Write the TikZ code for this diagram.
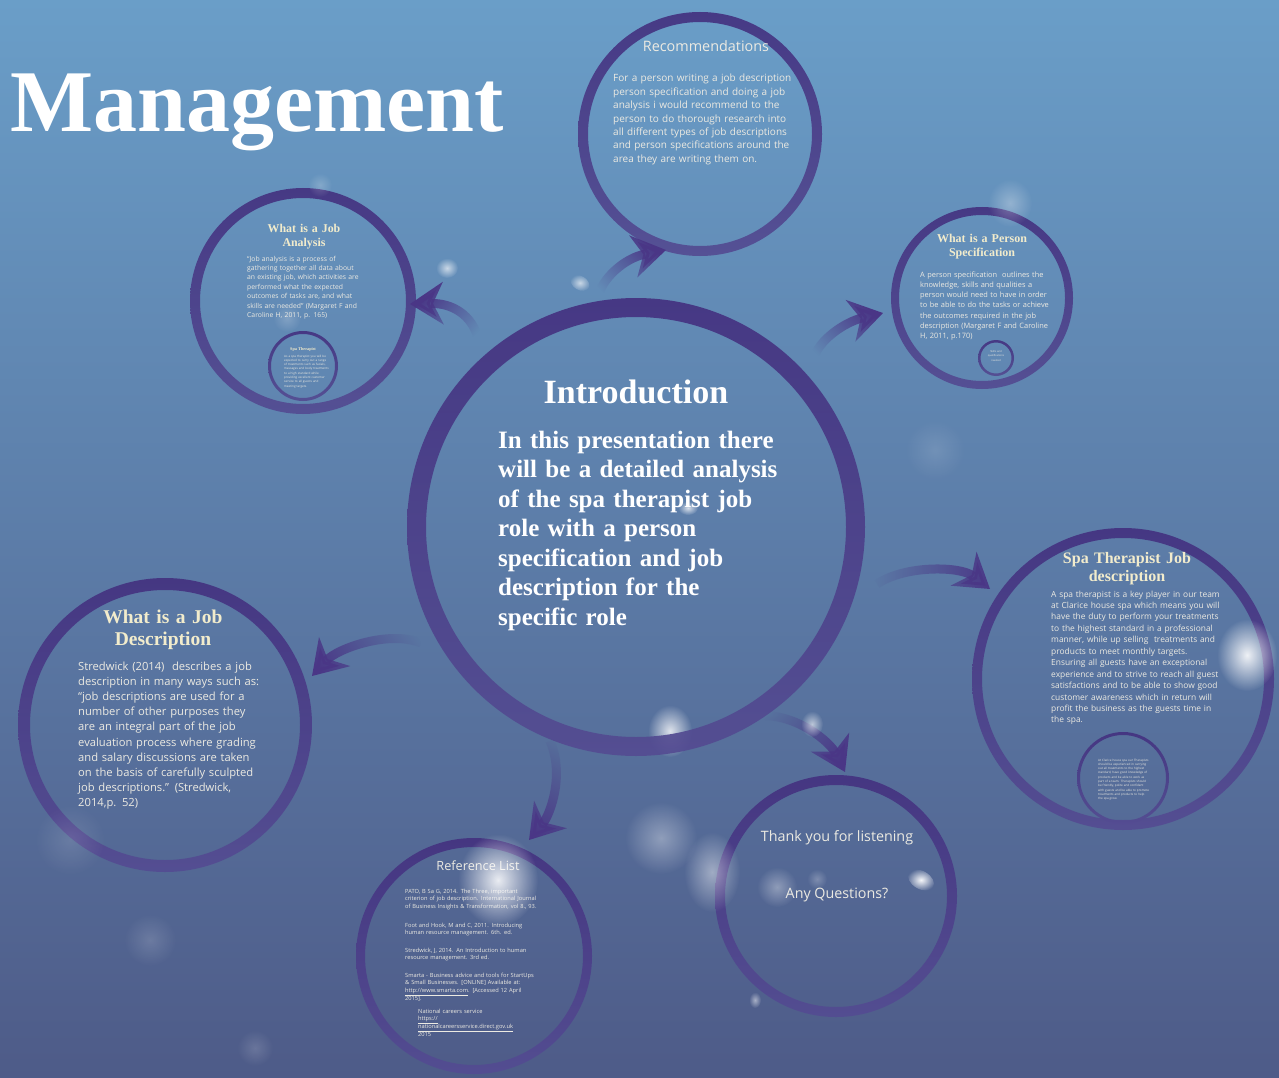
\documentclass[tikz,border=0pt]{standalone}
\usepackage{fontspec}
\setmainfont{Liberation Serif}
\newfontfamily\osans{Open Sans}
\usetikzlibrary{arrows.meta,fadings}
\definecolor{bgtop}{RGB}{106,158,200}
\definecolor{bgmid}{RGB}{88,123,166}
\definecolor{bgbot}{RGB}{78,91,136}
\definecolor{ringtop}{RGB}{68,50,128}
\definecolor{ringbot}{RGB}{84,76,146}
\definecolor{arrowc}{RGB}{74,54,134}
\definecolor{cream}{RGB}{242,236,204}
\definecolor{bodytxt}{RGB}{236,234,226}
\tikzfading[name=fuzzy, inner color=transparent!0, outer color=transparent!100]
\tikzfading[name=tailfade, left color=transparent!100, right color=transparent!0]
\newcommand\ringat[3]{\shade[top color=ringtop, bottom color=ringbot, even odd rule, opacity=0.92]
  (#1) circle[radius=#2pt] (#1) circle[radius=#2pt-#3pt];}
\newcommand\spot[5]{\fill[white, path fading=fuzzy, fill opacity=#5] (#1,#2) ellipse[x radius=#3pt, y radius=#4pt];}
\tikzset{
  hub/.style={circle, inner sep=0pt, draw=none, minimum size=#1},
  heading/.style={anchor=base, inner sep=0pt, text=cream, align=center, text width=#1},
  bodytext/.style={anchor=base west, inner sep=0pt, text=bodytxt, align=left, text width=#1},
  plain/.style={anchor=base, inner sep=0pt, text=bodytxt},
  arr/.style={draw=arrowc, line width=9pt, -{Stealth[length=33pt,width=42pt,inset=10pt]},
    path fading=tailfade, fading angle=#1},
}
\begin{document}
\begin{tikzpicture}[x=1pt,y=-1pt]
\useasboundingbox (0,0) rectangle (1279,1078);
\shade[top color=bgtop, middle color=bgmid, bottom color=bgbot] (0,0) rectangle (1279,1078);

% spots lying behind the rings
\spot{670}{731}{22}{26}{0.8}

% hubs
\node[hub=458pt] (intro) at (636,527) {};
\node[hub=226pt] (ja) at (303,301) {};
\node[hub=70pt] (jain) at (303,366) {};
\node[hub=244pt] (rec) at (700,134) {};
\node[hub=182pt] (ps) at (982,298) {};
\node[hub=36pt] (psin) at (996,358) {};
\node[hub=302pt] (spa) at (1123,679) {};
\node[hub=92pt] (spain) at (1123,778) {};
\node[hub=294pt] (jd) at (165,725) {};
\node[hub=236pt] (ref) at (474,956) {};
\node[hub=242pt] (ty) at (836,896) {};

% rings
\ringat{intro.center}{229}{19}
\ringat{ja.center}{113}{10}
\ringat{jain.center}{35}{3}
\ringat{rec.center}{122}{10}
\ringat{ps.center}{91}{8}
\ringat{psin.center}{18}{2.5}
\ringat{spa.center}{151}{10}
\ringat{spain.center}{46}{3}
\ringat{jd.center}{147}{12}
\ringat{ref.center}{118}{9}
\ringat{ty.center}{121}{10}

% arrows
\coordinate (aT) at (478,338); \coordinate (aH) at (410,304);
\coordinate (bT) at (598,297); \coordinate (bH) at (666,250);
\coordinate (cT) at (813,360); \coordinate (cH) at (883,313);
\coordinate (dT) at (877,584); \coordinate (dH) at (990,589);
\coordinate (eT) at (421,643); \coordinate (eH) at (312,676);
\coordinate (fT) at (550,741); \coordinate (fH) at (529,840);
\coordinate (gT) at (757,716); \coordinate (gH) at (845,772);
\draw[arr=153] (aT) .. controls (472,315) and (452,303) .. (aH);
\draw[arr=35] (bT) .. controls (602,278) and (625,258) .. (bH);
\draw[arr=34] (cT) .. controls (818,340) and (845,322) .. (cH);
\draw[arr=0] (dT) .. controls (905,565) and (960,566) .. (dH);
\draw[arr=197] (eT) .. controls (390,630) and (338,648) .. (eH);
\draw[arr=256] (fT) .. controls (565,775) and (550,815) .. (fH);
\draw[arr=-32] (gT) .. controls (795,712) and (830,742) .. (gH);

% title
\node[anchor=base west, inner sep=0pt, text=white, font=\bfseries\fontsize{88}{90}\selectfont] (title) at (10,132) {Management};

% introduction
\node[anchor=base, inner sep=0pt, text=white, font=\bfseries\fontsize{34}{40}\selectfont] (introh) at (636,403) {Introduction};
\node[bodytext=320pt, text=white, font=\bfseries\fontsize{25}{29.5}\selectfont] (introb) at (498,448)
 {In this presentation there\\ will be a detailed analysis\\ of the spa therapist job\\ role with a person\\ specification and job\\ description for the\\ specific role};

% job analysis
\node[heading=120pt, font=\bfseries\fontsize{11.9}{13.5}\selectfont] (jah) at (304,233) {What is a Job\\Analysis};
\node[bodytext=140pt, font=\osans\fontsize{6.8}{9.4}\selectfont] (jab) at (247,261)
 {“Job analysis is a process of\\ gathering together all data about\\ an existing job, which activities are\\ performed what the expected\\ outcomes of tasks are, and what\\ skills are needed” (Margaret F and\\ Caroline H, 2011, p. 165)};
\node[heading=50pt, font=\bfseries\fontsize{4.2}{5}\selectfont] (jainh) at (303,350) {Spa Therapist};
\node[bodytext=50pt, font=\osans\fontsize{3}{4.3}\selectfont] (jainb) at (284,357)
 {As a spa therapist you will be\\ expected to carry out a range\\ of treatments such as facials,\\ massages and body treatments\\ to a high standard while\\ providing excellent customer\\ service to all guests and\\ meeting targets.};

% recommendations
\node[plain, font=\osans\fontsize{14.4}{16}\selectfont] (rech) at (706,52) {Recommendations};
\node[bodytext=220pt, font=\osans\fontsize{10}{13.4}\selectfont] (recb) at (613,82)
 {For a person writing a job description\\ person specification and doing a job\\ analysis i would recommend to the\\ person to do thorough research into\\ all different types of job descriptions\\ and person specifications around the\\ area they are writing them on.};

% person specification
\node[heading=140pt, font=\bfseries\fontsize{12}{14}\selectfont] (psh) at (982,242) {What is a Person\\Specification};
\node[bodytext=150pt, font=\osans\fontsize{7.4}{10.3}\selectfont] (psb) at (920,277)
 {A person specification\ \ outlines the\\ knowledge, skills and qualities a\\ person would need to have in order\\ to be able to do the tasks or achieve\\ the outcomes required in the job\\ description (Margaret F and Caroline\\ H, 2011, p.170)};
\node[heading=30pt, text=bodytxt, font=\osans\fontsize{2.6}{4.5}\selectfont] (psinb) at (996,352) {Skills and\\ qualifications\\ needed};

% spa therapist
\node[heading=200pt, font=\bfseries\fontsize{16}{18.5}\selectfont] (spah) at (1127,563) {Spa Therapist Job\\description};
\node[bodytext=200pt, font=\osans\fontsize{8.4}{11.45}\selectfont] (spab) at (1051,597)
 {A spa therapist is a key player in our team\\ at Clarice house spa which means you will\\ have the duty to perform your treatments\\ to the highest standard in a professional\\ manner, while up selling\ \ treatments and\\ products to meet monthly targets.\\ Ensuring all guests have an exceptional\\ experience and to strive to reach all guest\\ satisfactions and to be able to show good\\ customer awareness which in return will\\ profit the business as the guests time in\\ the spa.};
\node[bodytext=70pt, font=\osans\fontsize{3}{4.3}\selectfont] (spainb) at (1098,761)
 {At Clarice house spa our Therapists\\ should be experienced in carrying\\ out all treatments to the highest\\ standard, have good knowledge of\\ products and be able to work as\\ part of a team. Therapists should\\ be friendly, polite and confident\\ with guests and be able to promote\\ treatments and products to help\\ the spa grow.};

% job description
\node[heading=220pt, font=\bfseries\fontsize{19.5}{22.5}\selectfont] (jdh) at (163,623) {What is a Job\\Description};
\node[bodytext=220pt, font=\osans\fontsize{11.2}{15.2}\selectfont] (jdb) at (78,670)
 {Stredwick (2014)\ \ describes a job\\ description in many ways such as:\\ “job descriptions are used for a\\ number of other purposes they\\ are an integral part of the job\\ evaluation process where grading\\ and salary discussions are taken\\ on the basis of carefully sculpted\\ job descriptions.” (Stredwick,\\ 2014,p. 52)};

% reference list
\node[plain, font=\osans\fontsize{12.7}{14}\selectfont] (refh) at (478,870) {Reference List};
\tikzset{refb/.style={bodytext=170pt, font=\osans\fontsize{5.7}{7.8}\selectfont}}
\node[refb] (ref1) at (405,893) {PATO, B Sa G, 2014. The Three, important\\ criterion of job description. International Journal\\ of Business Insights \& Transformation, vol 8., 93.};
\node[refb] (ref2) at (405,927) {Foot and Hook, M and C, 2011. Introducing\\ human resource management. 6th. ed.};
\node[refb] (ref3) at (405,952) {Stredwick, J, 2014. An Introduction to human\\ resource management. 3rd ed.};
\node[refb] (ref4) at (405,977) {Smarta - Business advice and tools for StartUps\\ \& Small Businesses. [ONLINE] Available at:\\ \underline{http://www.smarta.com}. [Accessed 12 April\\ 2015].};
\node[refb] (ref5) at (418,1013) {National careers service\\ \underline{https://}\\ \underline{nationalcareersservice.direct.gov.uk}\\ 2015};

% thank you
\node[plain, font=\osans\fontsize{14.3}{16}\selectfont] (tya) at (837,841) {Thank you for listening};
\node[plain, font=\osans\fontsize{14.3}{16}\selectfont] (tyb) at (837,898) {Any Questions?};

% bokeh spots
\spot{1247}{655}{30}{36}{0.9}
\begin{scope}[rotate around={-30:(921,880)}]\spot{921}{880}{14}{9}{0.95}\end{scope}
\spot{498}{880}{40}{46}{0.88}
\spot{812}{724}{11}{13}{0.6}
\spot{688}{508}{10}{7}{0.75}
\spot{447}{268}{11}{10}{0.65}
\begin{scope}[rotate around={-30:(580,283)}]\spot{580}{283}{10}{7}{0.65}\end{scope}
\spot{661}{838}{36}{36}{0.35}
\spot{1010}{203}{22}{24}{0.3}
\spot{755}{1000}{6}{8}{0.5}
\spot{712}{872}{28}{40}{0.45}
\spot{777}{887}{20}{20}{0.35}
\spot{817}{879}{10}{10}{0.25}
\spot{150}{940}{26}{26}{0.15}
\spot{935}{450}{30}{30}{0.12}
\spot{320}{185}{12}{12}{0.2}
\spot{287}{318}{14}{14}{0.2}
\spot{70}{840}{35}{35}{0.12}
\spot{255}{1048}{18}{18}{0.15}
\end{tikzpicture}
\end{document}
